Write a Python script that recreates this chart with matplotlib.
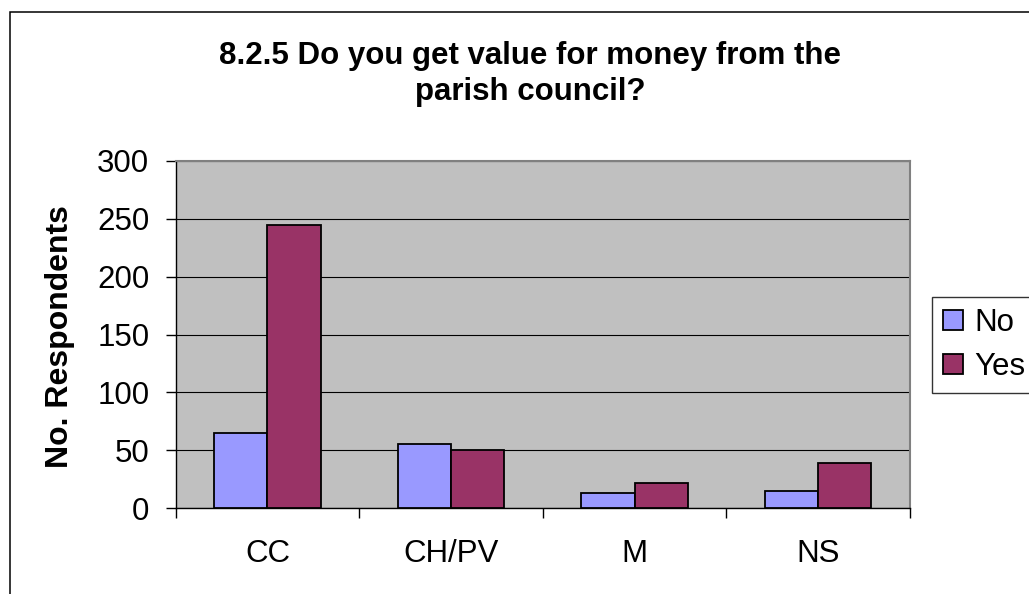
import numpy as np
import matplotlib.pyplot as plt
from matplotlib.patches import Rectangle

# data
categories = ["CC", "CH/PV", "M", "NS"]
no_values = [65, 55, 13, 15]
yes_values = [245, 50, 22, 39]
y_ticks = [0, 50, 100, 150, 200, 250, 300]

plt.rcParams['font.family'] = ['Liberation Sans', 'DejaVu Sans']

W, H = 1029, 594
fig = plt.figure(figsize=(W / 100, H / 100), dpi=100)
fig.patch.set_facecolor('white')

# outer chart border (right and bottom run off the picture)
fig.patches.append(Rectangle((10 / W, -0.1), 1.2, 1.1 - 12 / H,
                             transform=fig.transFigure, fill=False,
                             edgecolor='black', linewidth=1.1))

ax = fig.add_axes([175.7 / W, 1 - 508 / H, (910 - 175.7) / W, (508 - 161) / H])
ax.set_facecolor('#C0C0C0')

x = np.arange(len(categories))
w = 0.29
ax.bar(x - w / 2, no_values, w, color='#9999FF', edgecolor='black',
       linewidth=1.3, label='No', zorder=3)
ax.bar(x + w / 2, yes_values, w, color='#993366', edgecolor='black',
       linewidth=1.3, label='Yes', zorder=3)

ax.set_xlim(-0.5, len(categories) - 0.5)
ax.set_ylim(0, 300)
ax.set_yticks(y_ticks)
ax.yaxis.grid(True, color='black', linewidth=0.8, zorder=1)
ax.set_axisbelow(True)

# category labels at centres, tick marks at boundaries
ax.set_xticks(x)
ax.set_xticklabels(categories)
ax.set_xticks(np.arange(-0.5, len(categories)), minor=True)
ax.tick_params(axis='x', which='major', length=0, pad=22, labelsize=22.5)
ax.tick_params(axis='x', which='minor', length=7, width=1, direction='out')
ax.tick_params(axis='y', length=7, width=1, pad=12, labelsize=22.5)

for side in ['top', 'right']:
    ax.spines[side].set_color('#808080')
    ax.spines[side].set_linewidth(1.5)
for side in ['left', 'bottom']:
    ax.spines[side].set_color('black')
    ax.spines[side].set_linewidth(1)

fig.text(60 / W, 1 - 337 / H, 'No. Respondents', rotation=90, fontsize=23,
         fontweight='bold', ha='center', va='center')
fig.text(530 / W, 1 - 74 / H, '8.2.5 Do you get value for money from the\nparish council?',
         fontsize=22.5, fontweight='bold', ha='center', va='center',
         linespacing=1.25)

leg = ax.legend(loc='upper left', bbox_to_anchor=(931.7 / W, 1 - 297 / H),
                bbox_transform=fig.transFigure, fontsize=22.5, frameon=True,
                fancybox=False, shadow=False, borderaxespad=0,
                handlelength=0.65, handleheight=0.65, handletextpad=0.35,
                labelspacing=0.45, borderpad=0.35)
leg.get_frame().set_edgecolor('black')
leg.get_frame().set_linewidth(1)

fig.savefig('out.png', dpi=100)
